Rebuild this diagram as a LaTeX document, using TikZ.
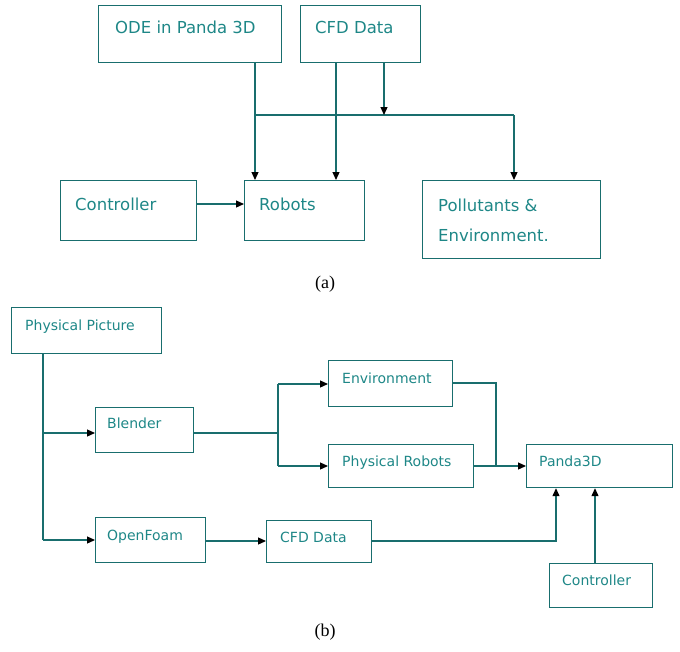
\documentclass[tikz,border=0pt]{standalone}
\usepackage{fontspec}
\setmainfont{DejaVu Sans}
\newfontfamily\capfont{Liberation Serif}
\usetikzlibrary{arrows.meta}
\definecolor{ln}{RGB}{25,110,110}
\definecolor{tx}{RGB}{30,135,135}
\tikzset{
  box/.style={draw=ln, line width=1.2pt, inner sep=0pt, anchor=north west},
  lbla/.style={text=tx, inner sep=0pt, anchor=base west, font=\fontsize{16.5}{19}\selectfont},
  lblb/.style={text=tx, inner sep=0pt, anchor=base west, font=\fontsize{14}{16}\selectfont},
  wire/.style={draw=ln, line width=1.2pt},
  arr/.style={wire, -{Triangle[length=8pt,width=7pt,color=black]}},
  capt/.style={inner sep=0pt, font=\capfont\fontsize{18}{20}\selectfont}
}
\begin{document}
\begin{tikzpicture}[x=1pt,y=-1pt]
\useasboundingbox (0,0) rectangle (680,651);
% ---------- (a) ----------
\node[box, minimum width=183pt, minimum height=57pt] (ode) at (98,5) {};
\node[box, minimum width=120pt, minimum height=57pt] (cfda) at (300,5) {};
\node[box, minimum width=136pt, minimum height=60pt] (ctrla) at (60,180) {};
\node[box, minimum width=120pt, minimum height=60pt] (robots) at (244,180) {};
\node[box, minimum width=178pt, minimum height=78pt] (poll) at (422,180) {};
\node[lbla] (tode) at (115,33) {ODE in Panda 3D};
\node[lbla] (tcfda) at (315,33) {CFD Data};
\node[lbla] (tctrla) at (75,210) {Controller};
\node[lbla] (trob) at (259,210) {Robots};
\node[lbla] (tpol1) at (438,211) {Pollutants \&};
\node[lbla] (tpol2) at (438,241) {Environment.};
\coordinate (ja) at (255,115);
\coordinate (jb) at (514,115);
\draw[arr] (ja |- ode.south) -- (ja |- robots.north);
\draw[wire] (ja) -- (jb);
\draw[arr] (jb) -- (jb |- poll.north);
\draw[arr] (336,62 |- cfda.south) -- (336,180 |- robots.north);
\draw[arr] (384,62 |- cfda.south) -- (384,115);
\coordinate (ca) at (0,204);
\draw[arr] (ctrla.east |- ca) -- (robots.west |- ca);
\node[capt] (capa) at (325,284) {(a)};
% ---------- (b) ----------
\node[box, minimum width=150pt, minimum height=46pt] (pp) at (11,307) {};
\node[box, minimum width=98pt, minimum height=45pt] (blend) at (95,407) {};
\node[box, minimum width=110pt, minimum height=45pt] (foam) at (95,517) {};
\node[box, minimum width=124pt, minimum height=46pt] (env) at (328,360) {};
\node[box, minimum width=145pt, minimum height=43pt] (prob) at (328,444) {};
\node[box, minimum width=146pt, minimum height=43pt] (panda) at (526,444) {};
\node[box, minimum width=105pt, minimum height=42pt] (cfdb) at (266,520) {};
\node[box, minimum width=103pt, minimum height=44pt] (ctrlb) at (549,563) {};
\node[lblb] (tpp) at (25,330) {Physical Picture};
\node[lblb] (tbl) at (107,428) {Blender};
\node[lblb] (tfo) at (107,540) {OpenFoam};
\node[lblb] (ten) at (342,383) {Environment};
\node[lblb] (tpr) at (342,466) {Physical Robots};
\node[lblb] (tpa) at (539,466) {Panda3D};
\node[lblb] (tcf) at (280,542) {CFD Data};
\node[lblb] (tcb) at (562,585) {Controller};
\coordinate (v1) at (43,433);
\coordinate (v2) at (43,540);
\draw[wire] (v1 |- pp.south) -- (v2);
\draw[arr] (v1) -- (v1 -| blend.west);
\draw[arr] (v2) -- (v2 -| foam.west);
\coordinate (s1) at (278,433);
\coordinate (s2) at (278,384);
\coordinate (s3) at (278,466);
\draw[wire] (s1 -| blend.east) -- (s1);
\draw[wire] (s2) -- (s3);
\draw[arr] (s2) -- (s2 -| env.west);
\draw[arr] (s3) -- (s3 -| prob.west);
\coordinate (e1) at (496,383);
\coordinate (e2) at (496,466);
\draw[wire] (e1 -| env.east) -- (e1) -- (e2);
\draw[arr] (e2 -| prob.east) -- (e2 -| panda.west);
\coordinate (f1) at (43,541);
\draw[arr] (foam.east |- f1) -- (cfdb.west |- f1);
\coordinate (c1) at (556,541);
\draw[arr] (cfdb.east |- c1) -- (c1) -- (c1 |- panda.south);
\coordinate (k1) at (595,563);
\draw[arr] (k1 |- ctrlb.north) -- (k1 |- panda.south);
\node[capt] (capb) at (325,632) {(b)};
\end{tikzpicture}
\end{document}
